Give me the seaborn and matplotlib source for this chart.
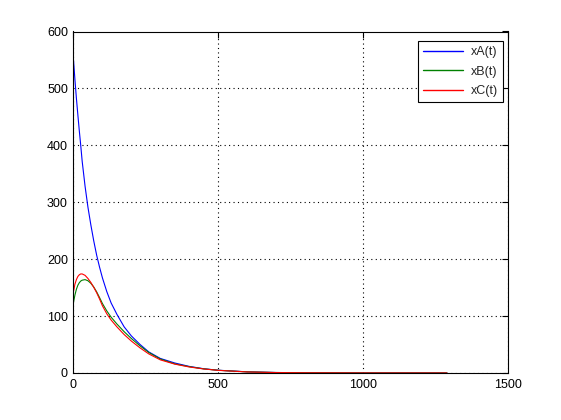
import pandas as pd
import matplotlib
matplotlib.use("Agg")
import matplotlib.pyplot as plt
import seaborn as sns

# data
t = [0, 5, 10, 15, 20, 25, 30, 40, 50, 60, 70, 80, 90, 100, 115, 130, 150, 175,
     200, 230, 260, 300, 350, 400, 450, 500, 600, 700, 800, 1000, 1290]
xA = [550, 515, 483, 454, 426, 400, 372, 328, 291, 260, 232, 207, 186, 167, 143,
      123, 103, 81, 65, 50, 37, 25.5, 17.5, 11.5, 7.4, 4.8, 2, 0.8, 0.3, 0.05, 0]
xB = [124, 137, 147, 154, 158.5, 161.5, 163, 164, 162, 157.5, 151, 142.5, 132.5,
      122, 109, 98, 86, 72.5, 60.5, 47.5, 36, 24.5, 16, 11, 7.2, 4.7, 1.9, 0.8,
      0.3, 0.05, 0]
xC = [143, 156, 164, 169.5, 172.5, 174, 174, 171.5, 166, 159, 150.5, 141, 130,
      118, 104, 93, 81, 67.5, 56, 44, 33.5, 23, 15.5, 10.5, 7, 4.6, 1.8, 0.7,
      0.3, 0.05, 0]
names = ["xA(t)", "xB(t)", "xC(t)"]
colors = ["#0000ff", "#008000", "#ff0000"]

df = pd.concat([
    pd.DataFrame({"t": t, "x": xA, "series": names[0]}),
    pd.DataFrame({"t": t, "x": xB, "series": names[1]}),
    pd.DataFrame({"t": t, "x": xC, "series": names[2]}),
])

sns.set_style("white")
plt.rcParams["font.family"] = ["Liberation Sans", "DejaVu Sans"]

fig = plt.figure(figsize=(5.61, 4.2), dpi=100)
ax = fig.add_axes([0.131, 0.112, 0.774, 0.813])
sns.lineplot(data=df, x="t", y="x", hue="series", palette=colors,
             linewidth=0.8, ax=ax, legend=False, estimator=None, sort=False)

ax.set_xlim(0, 1500)
ax.set_ylim(0, 600)
ax.set_xticks([0, 500, 1000, 1500])
ax.set_yticks([0, 100, 200, 300, 400, 500, 600])
ax.set_xlabel("")
ax.set_ylabel("")
ax.grid(True, color="black", linestyle=(0, (1, 3)), linewidth=0.8)
ax.tick_params(direction="in", length=4, width=0.8, top=True, right=True,
               labelsize=9, colors="black", pad=4)
for s in ax.spines.values():
    s.set_visible(True)
    s.set_color("black")
    s.set_linewidth(0.8)

# legend box placed like the reference
handles = [plt.Line2D([], [], color=c, linewidth=1.0) for c in colors]
leg = ax.legend(handles, names, loc="upper right", fontsize=9, frameon=True,
                fancybox=False, edgecolor="black", framealpha=1,
                handlelength=3.2, handletextpad=0.6, labelspacing=0.6,
                borderaxespad=0, bbox_to_anchor=(503 / 561, 1 - 41 / 420),
                bbox_transform=fig.transFigure)
leg.get_frame().set_linewidth(0.8)

fig.savefig("out.png", dpi=100, facecolor="white")
